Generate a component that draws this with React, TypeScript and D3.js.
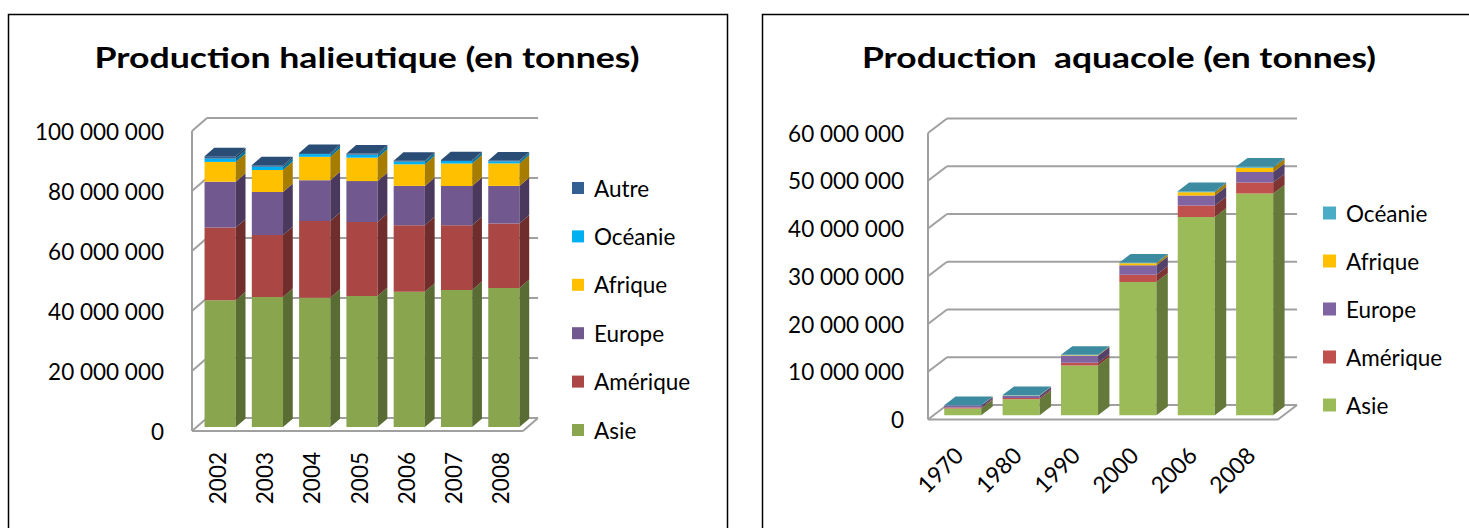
import React from 'react';
import * as d3 from 'd3';

// ---------- Data: Production halieutique (en tonnes) ----------
const fishYears = ['2002', '2003', '2004', '2005', '2006', '2007', '2008'];
const fishAsie = [42300000, 43400000, 43100000, 43700000, 45100000, 45700000, 46400000];
const fishAmerique = [24200000, 20600000, 25600000, 24700000, 22200000, 21600000, 21500000];
const fishEurope = [15300000, 14400000, 13600000, 13600000, 13100000, 13100000, 12500000];
const fishAfrique = [6600000, 7300000, 7800000, 7800000, 7200000, 7500000, 7500000];
const fishOceanie = [1100000, 1100000, 900000, 1000000, 900000, 800000, 700000];
const fishAutre = [800000, 500000, 400000, 400000, 300000, 300000, 300000];
const fishTicks = [0, 20000000, 40000000, 60000000, 80000000, 100000000];

// ---------- Data: Production aquacole (en tonnes) ----------
const aquaYears = ['1970', '1980', '1990', '2000', '2006', '2008'];
const aquaAsie = [1400000, 3350000, 10400000, 27900000, 41500000, 46400000];
const aquaAmerique = [200000, 250000, 550000, 1500000, 2400000, 2300000];
const aquaEurope = [400000, 450000, 1500000, 2000000, 2100000, 2200000];
const aquaAfrique = [20000, 50000, 80000, 400000, 700000, 900000];
const aquaOceanie = [60000, 100000, 100000, 150000, 200000, 250000];
const aquaTicks = [0, 10000000, 20000000, 30000000, 40000000, 50000000, 60000000];

const FONT = 'Lato, "Open Sans", sans-serif';

const fishSeries = [
  { name: 'Asie', values: fishAsie, color: '#89A54E' },
  { name: 'Amérique', values: fishAmerique, color: '#AA4643' },
  { name: 'Europe', values: fishEurope, color: '#71588F' },
  { name: 'Afrique', values: fishAfrique, color: '#FFC000' },
  { name: 'Océanie', values: fishOceanie, color: '#00B0F0' },
  { name: 'Autre', values: fishAutre, color: '#335F91' },
];

const aquaSeries = [
  { name: 'Asie', values: aquaAsie, color: '#9BBB59' },
  { name: 'Amérique', values: aquaAmerique, color: '#C0504D' },
  { name: 'Europe', values: aquaEurope, color: '#8064A2' },
  { name: 'Afrique', values: aquaAfrique, color: '#FFC000' },
  { name: 'Océanie', values: aquaOceanie, color: '#4BACC6' },
];

const fmt = (v: number) => d3.format(',')(v).replace(/,/g, ' ');

type Layout = {
  fx0: number; fx1: number; y0: number; y1: number; vmax: number;
  D: [number, number]; z0: number; z1: number; padIn: number; padOut: number;
  labelX: number; legX: number; legY: number; legStep: number; legSize: number;
  xLabelMode: 'vertical' | 'diag'; xLabelY: number; xLabelDx: number; xLabelSize: number;
  title: string; titleX: number; titleY: number; titleLen: number;
  panelX: number; panelW: number;
};

function Chart3D({ cats, series, ticks, L }: { cats: string[]; series: any[]; ticks: number[]; L: Layout }) {
  const x = d3.scaleBand().domain(cats).range([L.fx0, L.fx1]).paddingInner(L.padIn).paddingOuter(L.padOut);
  const y = d3.scaleLinear().domain([0, L.vmax]).range([L.y0, L.y1]);
  const P = (px: number, v: number, z: number): [number, number] => [px + z * L.D[0], y(v) + z * L.D[1]];
  const poly = (pts: [number, number][]) => pts.map((p) => p[0].toFixed(2) + ',' + p[1].toFixed(2)).join(' ');
  const rows = cats.map((c, i) => {
    const r: any = { cat: c };
    series.forEach((s) => (r[s.name] = s.values[i]));
    return r;
  });
  const stacked = d3.stack().keys(series.map((s) => s.name))(rows);
  const grid = '#A0A0A0';
  const bw = x.bandwidth();

  const bars: any[] = [];
  cats.forEach((c, i) => {
    const x0 = x(c) as number;
    const x1 = x0 + bw;
    let topIdx = -1;
    series.forEach((s, j) => {
      const [v0, v1] = stacked[j][i];
      if (v1 - v0 <= 0) return;
      topIdx = j;
      const col = d3.color(s.color)!;
      bars.push(
        <polygon key={`f${i}-${j}`} points={poly([P(x0, v0, L.z0), P(x1, v0, L.z0), P(x1, v1, L.z0), P(x0, v1, L.z0)])} fill={s.color} />,
        <polygon key={`s${i}-${j}`} points={poly([P(x1, v0, L.z0), P(x1, v0, L.z1), P(x1, v1, L.z1), P(x1, v1, L.z0)])} fill={col.darker(1.2).formatHex()} />
      );
    });
    if (topIdx >= 0) {
      const v1 = stacked[topIdx][i][1];
      const col = d3.color(series[topIdx].color)!;
      bars.push(
        <polygon key={`t${i}`} points={poly([P(x0, v1, L.z0), P(x1, v1, L.z0), P(x1, v1, L.z1), P(x0, v1, L.z1)])} fill={col.darker(0.6).formatHex()} />
      );
    }
  });

  const legendItems = [...series].reverse();

  return (
    <g>
      <rect x={L.panelX + 0.5} y={14.5} width={L.panelW} height={600} fill="#fff" stroke="#000" strokeWidth={1.5} />
      <text x={L.titleX} y={L.titleY} textAnchor="middle" fontFamily={FONT} fontWeight={700} fontSize={29}
        textLength={L.titleLen} lengthAdjust="spacingAndGlyphs" style={{ whiteSpace: 'pre' }}>{L.title}</text>
      {/* walls */}
      {ticks.map((t) => {
        const a = P(L.fx0, t, 1), b = P(L.fx1, t, 1);
        const c = P(L.fx0, t, 0);
        return (
          <g key={`g${t}`}>
            <line x1={a[0]} y1={a[1]} x2={b[0]} y2={b[1]} stroke={grid} strokeWidth={2} />
            <line x1={c[0]} y1={c[1]} x2={a[0]} y2={a[1]} stroke={grid} strokeWidth={2} />
          </g>
        );
      })}
      {(() => {
        const a = P(L.fx0, 0, 0), b = P(L.fx0, L.vmax, 0), c = P(L.fx1, 0, 0), d = P(L.fx1, 0, 1);
        return (
          <g>
            <line x1={a[0]} y1={a[1]} x2={b[0]} y2={b[1]} stroke={grid} strokeWidth={2} />
            <line x1={a[0]} y1={a[1]} x2={c[0]} y2={c[1]} stroke={grid} strokeWidth={2} />
            <line x1={c[0]} y1={c[1]} x2={d[0]} y2={d[1]} stroke={grid} strokeWidth={2} />
          </g>
        );
      })()}
      {bars}
      {/* y labels */}
      {ticks.map((t) => (
        <text key={`yl${t}`} x={L.labelX} y={y(t)} textAnchor="end" dominantBaseline="central" fontFamily={FONT} fontSize={22.5} fill="#000">
          {fmt(t)}
        </text>
      ))}
      {/* x labels */}
      {cats.map((c) => {
        const cx = (x(c) as number) + bw / 2 + L.xLabelDx;
        if (L.xLabelMode === 'vertical') {
          return (
            <text key={`xl${c}`} transform={`translate(${cx},${L.xLabelY}) rotate(-90)`} textAnchor="end" dominantBaseline="central"
              fontFamily={FONT} fontSize={L.xLabelSize} fill="#000">{c}</text>
          );
        }
        return (
          <text key={`xl${c}`} transform={`translate(${cx},${L.xLabelY}) rotate(-45)`} textAnchor="end"
            fontFamily={FONT} fontSize={L.xLabelSize} fill="#000">{c}</text>
        );
      })}
      {/* legend */}
      {legendItems.map((s, k) => {
        const cy = L.legY + k * L.legStep;
        return (
          <g key={`lg${s.name}`}>
            <rect x={L.legX} y={cy - L.legSize / 2} width={L.legSize} height={L.legSize} fill={s.color} />
            <text x={L.legX + L.legSize + 10} y={cy} dominantBaseline="central" fontFamily={FONT} fontSize={22.5} fill="#000">{s.name}</text>
          </g>
        );
      })}
    </g>
  );
}

const fishLayout: Layout = {
  fx0: 192, fx1: 523, y0: 431, y1: 131, vmax: 100000000,
  D: [15, -13], z0: 0.3, z1: 0.95, padIn: 0.34, padOut: 0.17,
  labelX: 164, legX: 572, legY: 188, legStep: 48.4, legSize: 12,
  xLabelMode: 'vertical', xLabelY: 452, xLabelDx: 1.5, xLabelSize: 22.5,
  title: 'Production halieutique (en tonnes)', titleX: 367, titleY: 68, titleLen: 545,
  panelX: 8, panelW: 719,
};

const aquaLayout: Layout = {
  fx0: 928, fx1: 1278, y0: 419.5, y1: 133, vmax: 60000000,
  D: [19, -14.5], z0: 0.3, z1: 0.9, padIn: 0.365, padOut: 0.18,
  labelX: 904, legX: 1323, legY: 213, legStep: 48, legSize: 13,
  xLabelMode: 'diag', xLabelY: 457, xLabelDx: 8, xLabelSize: 23,
  title: 'Production  aquacole (en tonnes)', titleX: 1119, titleY: 68, titleLen: 514,
  panelX: 762, panelW: 730,
};

export default function App() {
  return (
    <svg width={1469} height={528} style={{ position: 'absolute', left: 0, top: 0, background: '#fff' }}>
      <rect x={0} y={0} width={1469} height={528} fill="#fff" />
      <Chart3D cats={fishYears} series={fishSeries} ticks={fishTicks} L={fishLayout} />
      <Chart3D cats={aquaYears} series={aquaSeries} ticks={aquaTicks} L={aquaLayout} />
    </svg>
  );
}
